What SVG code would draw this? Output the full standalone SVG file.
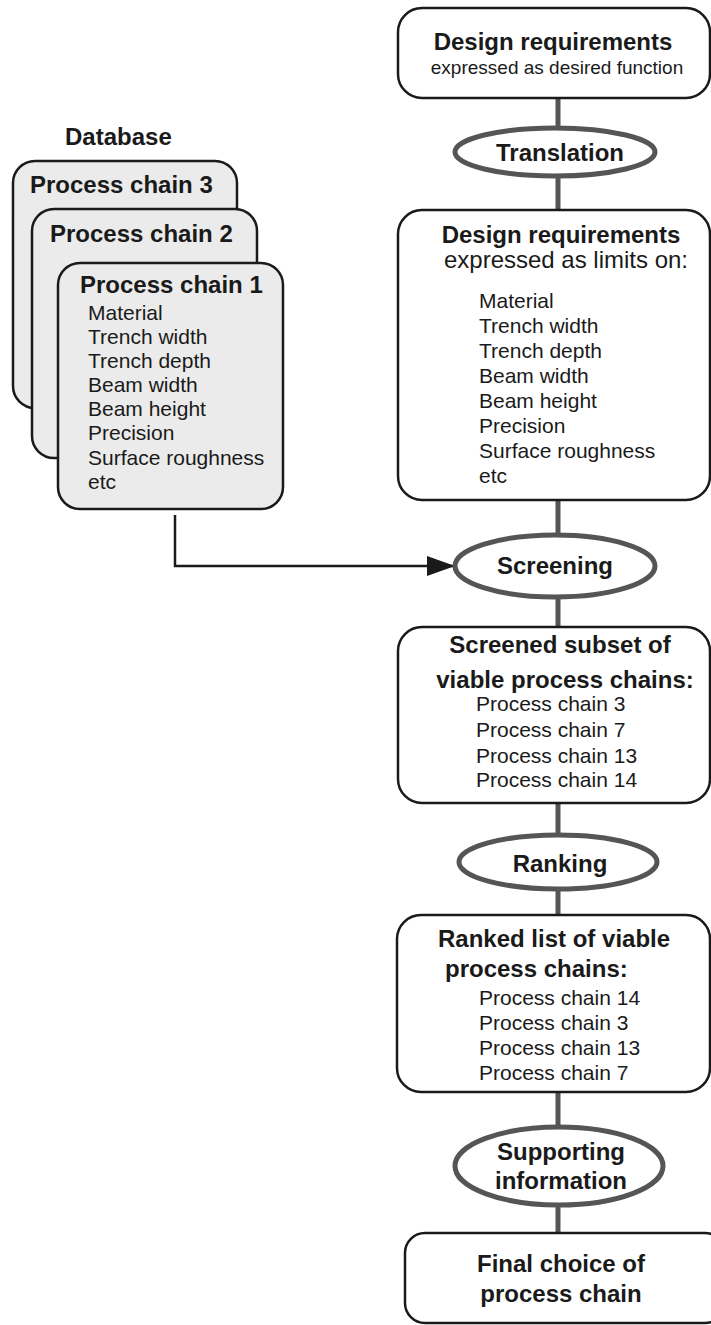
<svg xmlns="http://www.w3.org/2000/svg" width="711" height="1325" viewBox="0 0 711 1325">
<defs>
<style>
text{font-family:"Liberation Sans",Arial,sans-serif;fill:#1a1a1a}
.b{font-weight:bold;font-size:24px}
.r{font-size:21px}
.box{fill:#fff;stroke:#1a1a1a;stroke-width:2.5}
.db{fill:#ebebeb;stroke:#1a1a1a;stroke-width:2.5}
.ell{fill:#fff;stroke:#555;stroke-width:5}
.trunk{stroke:#555;stroke-width:5;fill:none}
.m{text-anchor:middle}
</style>
<marker id="ah" viewBox="0 0 28 20" refX="28" refY="10" markerWidth="28" markerHeight="20" markerUnits="userSpaceOnUse" orient="auto">
<path d="M0,0 L28,10 L0,20 Z" fill="#1a1a1a"/>
</marker>
</defs>
<g id="connectors">
<line class="trunk" x1="558" y1="98" x2="558" y2="128"/>
<line class="trunk" x1="558" y1="177" x2="558" y2="210"/>
<line class="trunk" x1="558" y1="500" x2="558" y2="535"/>
<line class="trunk" x1="558" y1="597" x2="558" y2="627"/>
<line class="trunk" x1="558" y1="803" x2="558" y2="835"/>
<line class="trunk" x1="558" y1="889" x2="558" y2="915"/>
<line class="trunk" x1="558" y1="1092" x2="558" y2="1127"/>
<line class="trunk" x1="558" y1="1205" x2="558" y2="1233"/>
<path d="M175,515 V566 H455" fill="none" stroke="#1a1a1a" stroke-width="2.5" marker-end="url(#ah)"/>
</g>
<g id="design-req-function">
<rect class="box" x="398" y="8" width="312" height="90" rx="24"/>
<text class="b m" x="553" y="50">Design requirements</text>
<text class="m" x="557" y="74" font-size="19">expressed as desired function</text>
</g>
<g id="translation">
<ellipse class="ell" cx="555" cy="152" rx="100" ry="24"/>
<text class="b m" x="560" y="161">Translation</text>
</g>
<g id="database">
<text class="b" x="65" y="145">Database</text>
</g>
<g id="process-chain-3">
<rect class="db" x="13" y="161" width="224" height="247" rx="22"/>
<text class="b" x="30" y="193">Process chain 3</text>
</g>
<g id="process-chain-2">
<rect class="db" x="32" y="209" width="225" height="249" rx="22"/>
<text class="b" x="50" y="242">Process chain 2</text>
</g>
<g id="process-chain-1">
<rect class="db" x="58" y="263" width="225" height="246" rx="22"/>
<text class="b" x="80" y="293">Process chain 1</text>
<text class="r" x="88" y="320">Material</text>
<text class="r" x="88" y="344">Trench width</text>
<text class="r" x="88" y="368">Trench depth</text>
<text class="r" x="88" y="392">Beam width</text>
<text class="r" x="88" y="416">Beam height</text>
<text class="r" x="88" y="440">Precision</text>
<text class="r" x="88" y="465">Surface roughness</text>
<text class="r" x="88" y="489">etc</text>
</g>
<g id="design-req-limits">
<rect class="box" x="398" y="210" width="312" height="290" rx="24"/>
<text class="b m" x="561" y="243" font-size="23">Design requirements</text>
<text class="m" x="566" y="268" font-size="24">expressed as limits on:</text>
<text class="r" x="479" y="308">Material</text>
<text class="r" x="479" y="333">Trench width</text>
<text class="r" x="479" y="358">Trench depth</text>
<text class="r" x="479" y="383">Beam width</text>
<text class="r" x="479" y="408">Beam height</text>
<text class="r" x="479" y="433">Precision</text>
<text class="r" x="479" y="458">Surface roughness</text>
<text class="r" x="479" y="483">etc</text>
</g>
<g id="screening">
<ellipse class="ell" cx="555" cy="566" rx="100" ry="31"/>
<text class="b m" x="555" y="574">Screening</text>
</g>
<g id="screened-subset">
<rect class="box" x="398" y="627" width="312" height="176" rx="24"/>
<text class="b m" x="560" y="653">Screened subset of</text>
<text class="b m" x="565" y="688">viable process chains:</text>
<text class="r" x="476" y="711">Process chain 3</text>
<text class="r" x="476" y="737">Process chain 7</text>
<text class="r" x="476" y="763">Process chain 13</text>
<text class="r" x="476" y="787">Process chain 14</text>
</g>
<g id="ranking">
<ellipse class="ell" cx="558" cy="862" rx="99" ry="27"/>
<text class="b m" x="560" y="872">Ranking</text>
</g>
<g id="ranked-list">
<rect class="box" x="397" y="915" width="313" height="177" rx="24"/>
<text class="b" x="438" y="947">Ranked list of viable</text>
<text class="b" x="445" y="977">process chains:</text>
<text class="r" x="479" y="1005">Process chain 14</text>
<text class="r" x="479" y="1030">Process chain 3</text>
<text class="r" x="479" y="1055">Process chain 13</text>
<text class="r" x="479" y="1080">Process chain 7</text>
</g>
<g id="supporting-information">
<ellipse class="ell" cx="559" cy="1166" rx="104" ry="39"/>
<text class="b m" x="561" y="1160">Supporting</text>
<text class="b m" x="561" y="1189">information</text>
</g>
<g id="final-choice">
<rect class="box" x="405" y="1233" width="320" height="90" rx="20"/>
<text class="b m" x="561" y="1272">Final choice of</text>
<text class="b m" x="561" y="1302">process chain</text>
</g>
</svg>
